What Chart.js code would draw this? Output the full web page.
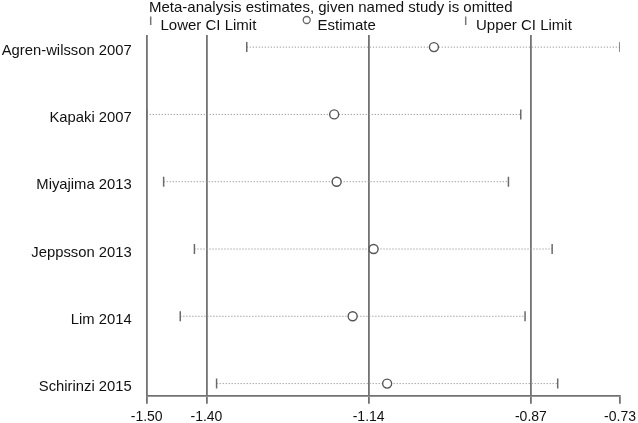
<!DOCTYPE html>
<html>
<head>
<meta charset="utf-8">
<script src="https://cdn.jsdelivr.net/npm/chart.js@4"></script>
<style>
  html, body { margin: 0; padding: 0; background: #fff; }
  #wrap { width: 638px; height: 423px; position: relative; }
</style>
</head>
<body>
<div id="wrap"><canvas id="chart"></canvas></div>
<script>
// 各研究を除外したときのメタ分析推定値
const studies = ["Agren-wilsson 2007", "Kapaki 2007", "Miyajima 2013", "Jeppsson 2013", "Lim 2014", "Schirinzi 2015"];
const estimate = [-1.029, -1.191, -1.187, -1.127, -1.161, -1.105];
const lowerCI = [-1.333, -1.4955, -1.468, -1.418, -1.441, -1.382];
const upperCI = [-0.7268, -0.888, -0.908, -0.837, -0.881, -0.828];
// 全体推定値（下限・推定・上限）
const combined = [-1.3985, -1.135, -0.8715];
const tickLabels = ["-1.50", "-1.40", "-1.14", "-0.87", "-0.73"];

const xMin = Math.min(...lowerCI);
const xMax = Math.max(...upperCI);
const tickValues = [xMin, ...combined, xMax];

const GRID = "#727272";
const FONT = '"Liberation Sans", Arial, sans-serif';

const ciLines = studies.map((s, i) => ({
  data: [{ x: lowerCI[i], y: i }, { x: upperCI[i], y: i }],
  showLine: true,
  borderColor: "#959595",
  borderWidth: 1,
  borderDash: [1.2, 1.8],
  pointRadius: 0,
  order: 3,
}));

const capStyle = {
  pointStyle: "line",
  rotation: 90,
  pointRadius: 5,
  borderColor: "#6a6a6a",
  borderWidth: 1.5,
  order: 2,
};

// 凡例とタイトル
const headerPlugin = {
  id: "header",
  afterDraw(chart) {
    const ctx = chart.ctx;
    ctx.save();
    ctx.fillStyle = "#111";
    ctx.textBaseline = "alphabetic";
    ctx.font = `15px ${FONT}`;
    ctx.fillText("Meta-analysis estimates, given named study is omitted", 149, 11.5);
    ctx.fillText("Lower CI Limit", 160.5, 30);
    ctx.fillText("Estimate", 317.5, 30);
    ctx.fillText("Upper CI Limit", 476, 30);
    ctx.strokeStyle = "#777";
    ctx.lineWidth = 1.5;
    ctx.beginPath();
    ctx.moveTo(150.7, 16.5); ctx.lineTo(150.7, 25);
    ctx.moveTo(465.7, 16.5); ctx.lineTo(465.7, 25);
    ctx.stroke();
    ctx.strokeStyle = "#666";
    ctx.lineWidth = 1.3;
    ctx.beginPath();
    ctx.arc(306.7, 20, 3.5, 0, Math.PI * 2);
    ctx.stroke();
    ctx.restore();
  },
};

new Chart(document.getElementById("chart"), {
  type: "scatter",
  data: {
    datasets: [
      {
        data: estimate.map((x, i) => ({ x, y: i })),
        pointStyle: "circle",
        pointRadius: 4.5,
        borderColor: "#555",
        backgroundColor: "#fff",
        borderWidth: 1.4,
        order: 1,
      },
      { ...capStyle, data: lowerCI.map((x, i) => ({ x, y: i })) },
      { ...capStyle, data: upperCI.map((x, i) => ({ x, y: i })) },
      ...ciLines,
    ],
  },
  options: {
    responsive: true,
    maintainAspectRatio: false,
    animation: false,
    events: [],
    layout: { padding: { top: 35, right: 18, left: 0, bottom: 0 } },
    plugins: {
      legend: { display: false },
      tooltip: { enabled: false },
    },
    scales: {
      x: {
        type: "linear",
        min: xMin,
        max: xMax,
        afterBuildTicks: (scale) => { scale.ticks = tickValues.map((v) => ({ value: v })); },
        afterFit: (scale) => {
          scale.height = 27.3;
          scale.paddingLeft = 0;
          scale.paddingRight = 0;
        },
        ticks: {
          autoSkip: false,
          maxRotation: 0,
          padding: 5,
          color: "#111",
          font: { family: FONT, size: 14 },
          callback: (v, i) => tickLabels[i],
        },
        grid: {
          color: (ctx) => (ctx.index === tickValues.length - 1 ? "rgba(0,0,0,0)" : GRID),
          tickColor: GRID,
          lineWidth: 1.8,
          tickLength: 8,
        },
        border: { display: true, color: GRID, width: 1.8 },
      },
      y: {
        type: "linear",
        reverse: true,
        min: -0.18,
        max: 5.18,
        afterBuildTicks: (scale) => { scale.ticks = studies.map((s, i) => ({ value: i })); },
        afterFit: (scale) => { scale.width = 146.7; },
        ticks: {
          autoSkip: false,
          padding: 15,
          labelOffset: 3.5,
          color: "#111",
          font: { family: FONT, size: 14.8 },
          callback: (v) => studies[v],
        },
        grid: { display: false, drawTicks: false },
        border: { display: false },
      },
    },
  },
  plugins: [headerPlugin],
});
</script>
</body>
</html>
